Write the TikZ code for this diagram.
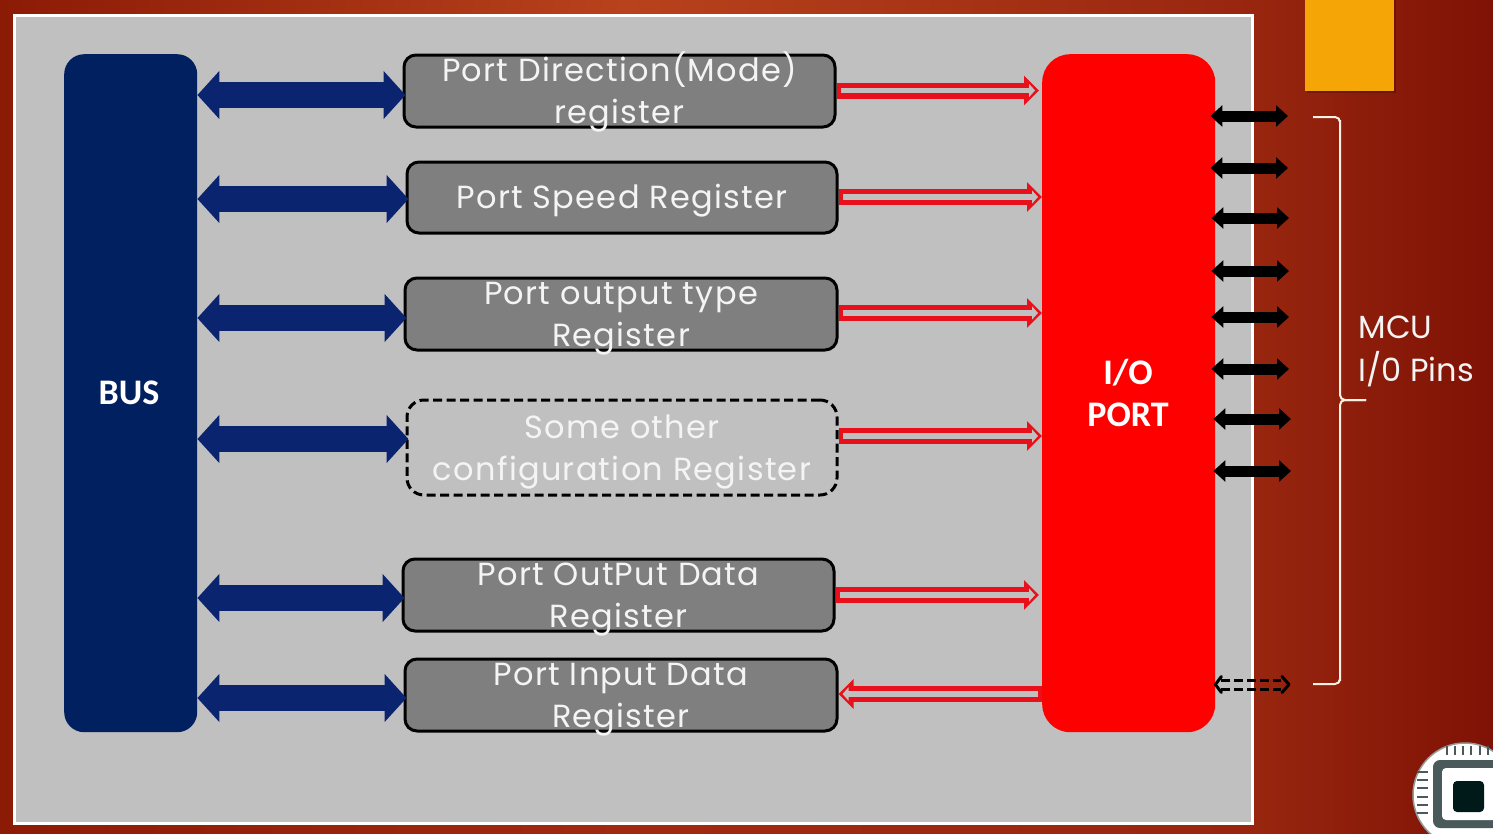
\documentclass[tikz,border=0pt]{standalone}
\usepackage{fontspec}
\setmainfont{Poppins}[LetterSpace=4]
\newfontfamily\plainf{Poppins}
\newfontfamily\boldf{Carlito}
\usetikzlibrary{arrows.meta,calc}
\definecolor{bgedge}{HTML}{8C1B06}
\definecolor{bgmid}{HTML}{A02A10}
\definecolor{bgright}{HTML}{7F1205}
\definecolor{bgcol}{HTML}{98260F}
\definecolor{bgtop}{HTML}{B8421C}
\definecolor{panelc}{HTML}{C1C0C0}
\definecolor{busc}{HTML}{002060}
\definecolor{arrowc}{HTML}{0A2470}
\definecolor{boxc}{HTML}{7F7F7F}
\definecolor{txtc}{HTML}{F4F4F4}
\definecolor{orangec}{HTML}{F5A506}
\definecolor{hollowc}{HTML}{E8101A}
\definecolor{logoc}{HTML}{4A5A5A}
\newcommand\twolines[2]{\smash{\raisebox{-9.5pt}{\begin{tabular}[c]{@{}c@{}}#1\\#2\end{tabular}}}}
\newcommand\hollow[2]{%
  \draw[line width=16pt,hollowc,-{Triangle[length=15pt,width=29pt]}] (#1) -- (#2);
  \draw[line width=5.5pt,panelc,shorten <=4pt,shorten >=4pt,-{Triangle[length=6pt,width=13pt]}] (#1) -- (#2);
}
\tikzset{
  x=1pt,y=-1pt,
  regtext/.style={font=\fontsize{32}{42}\selectfont,text=txtc},
  regbox/.style={draw=black,line width=3pt,rounded corners=12pt,fill=boxc,inner sep=0pt,regtext},
  dashbox/.style={draw=black,line width=3pt,rounded corners=17pt,dash pattern=on 9pt off 4.5pt,inner sep=0pt,regtext},
  busarrow/.style={line width=26pt,arrowc,{Triangle[length=22pt,width=47pt]}-{Triangle[length=22pt,width=47pt]}},
  pinarrow/.style={line width=11pt,black,{Triangle[length=12pt,width=21pt]}-{Triangle[length=12pt,width=21pt]}},
  blockbox/.style={rounded corners=#1,inner sep=0pt},
  blocktext/.style={text=white,font=\boldf\bfseries\fontsize{36}{42}\selectfont,align=center},
  dashline/.style={black,line width=3pt,dash pattern=on 9pt off 4pt},
}
\begin{document}
\begin{tikzpicture}
\useasboundingbox (0,0) rectangle (1493,833);
\shade[left color=bgedge,right color=bgcol,middle color=bgmid] (0,0) rectangle (1252,833);
\shade[left color=bgcol,right color=bgright] (1252,0) rectangle (1493,833);
\shade[left color=bgedge,right color=bgcol,middle color=bgtop] (0,0) rectangle (1252,13);
\draw[draw=white,line width=3pt,fill=panelc] (14,15) rectangle (1252,823);
\fill[black,opacity=0.22] (1307,0) rectangle (1396,93);
\fill[orangec] (1305,0) rectangle (1394,91);

\node[blockbox=20pt,fill=busc,minimum width=133pt,minimum height=678pt,anchor=north west] (bus) at (64,54) {};
\node[blocktext] (bustext) at (129,393) {BUS};
\node[blockbox=28pt,fill=red,minimum width=173pt,minimum height=678pt,anchor=north west] (port) at (1042,54) {};
\node[blocktext] (porttext) at (1128,393) {I/O\\PORT};

\node[regbox,minimum width=431pt,minimum height=72pt] (r1) at (619.5,91) {\twolines{Port Direction(Mode)}{register}};
\node[regbox,minimum width=430pt,minimum height=71pt] (r2) at (622,197.5) {\smash{\raisebox{-11pt}{Port Speed Register}}};
\node[regbox,minimum width=432pt,minimum height=72pt] (r3) at (621,314) {\twolines{Port output type}{Register}};
\node[dashbox,minimum width=430pt,minimum height=95pt] (r4) at (622,447.5) {\twolines{Some other}{configuration Register}};
\node[regbox,minimum width=431pt,minimum height=72pt] (r5) at (618.5,595) {\twolines{Port OutPut Data}{Register}};
\node[regbox,minimum width=432pt,minimum height=72pt] (r6) at (621,695) {\twolines{Port Input Data}{Register}};

\foreach \n/\dy in {r1/4,r2/1.5,r3/4,r4/-8.5,r5/3,r6/3}{
  \draw[busarrow] (bus.east |- {$(\n.west)+(0,\dy)$}) -- ($(\n.west)+(3,\dy)$);
}
\hollow{$(r1.east)+(0,-0.5)$}{$(port.west |- r1.east)+(-3,-0.5)$}
\hollow{$(r2.east)+(0,-0.5)$}{$(port.west |- r2.east)+(0,-0.5)$}
\hollow{$(r3.east)+(0,-1)$}{$(port.west |- r3.east)+(0,-1)$}
\hollow{$(r4.east)+(0,-11.5)$}{$(port.west |- r4.east)+(0,-11.5)$}
\hollow{$(r5.east)+(0,0)$}{$(port.west |- r5.east)+(-3,0)$}
\hollow{$(port.west |- r6.east)+(0,-1)$}{$(r6.east)+(0,-1)$}

\foreach \i/\y/\dx in {1/116/0,2/168/0,3/218/1,4/271/1,5/317/1,6/369/1,7/419/3,8/471/3}{
  \coordinate (pin\i) at (1288+\dx,\y);
  \draw[pinarrow] ($(port.east |- pin\i)+(-5+\dx,0)$) -- (pin\i);
}

\coordinate (pina) at (1289,680);
\coordinate (pinb) at (1289,689);
\coordinate (pinc) at (1289,684.5);
\draw[dashline] ($(port.east |- pina)+(6,0)$) -- ($(pina)+(-8,0)$);
\draw[dashline] ($(port.east |- pinb)+(6,0)$) -- ($(pinb)+(-8,0)$);
\draw[black,line width=3pt,line cap=round,line join=round] ($(port.east |- pinc)+(6,-8)$) -- ($(port.east |- pinc)$) -- ($(port.east |- pinc)+(6,8)$);
\draw[black,line width=3pt,line cap=round,line join=round] ($(pinc)+(-7,-8)$) -- (pinc) -- ($(pinc)+(-7,8)$);

\coordinate (bta) at (1313,117);
\coordinate (btb) at (1340,125);
\coordinate (btc) at (1366,400);
\coordinate (btd) at (1340,676);
\coordinate (bte) at (1313,684);
\draw[white!90!orange,line width=2pt,rounded corners=5pt] (bta) -- (1340,117) -- (btb) -- (1340,400) -- (btc);
\draw[white!90!orange,line width=2pt,rounded corners=5pt] (btc) -- (1340,400) -- (btd) -- (1340,684) -- (bte);

\node[regtext,align=left,anchor=west,font=\plainf\fontsize{32}{43}\selectfont] (mcu) at (1355,351) {MCU\\I/0 Pins};

\begin{scope}
\clip (0,0) rectangle (1493,833);
\draw[logoc!60,line width=1.5pt,fill=white] (1465,795) circle (52);
\foreach \a in {1447,1455,1463,1471,1480,1488}{ \draw[logoc,line width=2.5pt] (\a,746) -- (\a,755); }
\foreach \b in {772,780,788,797,805,813}{ \draw[logoc,line width=2pt] (1417,\b) -- (1428,\b); }
\fill[logoc,rounded corners=7pt] (1433,760) rectangle (1520,828);
\fill[white,rounded corners=4pt] (1442,768) rectangle (1510,820);
\fill[black!80!teal,rounded corners=4pt] (1453,781) rectangle (1484,812);
\end{scope}
\end{tikzpicture}
\end{document}
